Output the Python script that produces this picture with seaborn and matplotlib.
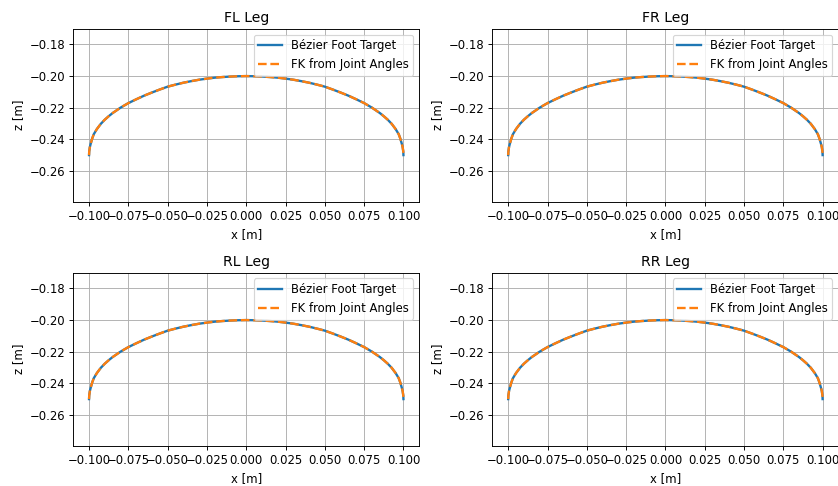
import pandas as pd
import matplotlib
matplotlib.use("Agg")
import matplotlib.pyplot as plt
from matplotlib.ticker import MultipleLocator
import seaborn as sns

# Swing trajectory of one foot (x forward, z vertical), in metres
foot_x = [-0.1000, -0.0999, -0.0995, -0.0990, -0.0980, -0.0970, -0.0950,
          -0.0925, -0.0900, -0.0875, -0.0850, -0.0800, -0.0750, -0.0700,
          -0.0650, -0.0600, -0.0550, -0.0500, -0.0450, -0.0400, -0.0350,
          -0.0300, -0.0250, -0.0200, -0.0150, -0.0100, -0.0050, 0.0000,
          0.0050, 0.0100, 0.0150, 0.0200, 0.0250, 0.0300, 0.0350,
          0.0400, 0.0450, 0.0500, 0.0550, 0.0600, 0.0650, 0.0700,
          0.0750, 0.0800, 0.0850, 0.0875, 0.0900, 0.0925, 0.0950,
          0.0970, 0.0980, 0.0990, 0.0995, 0.0999, 0.1000]
foot_z = [-0.2500, -0.2478, -0.2450, -0.2430, -0.2395, -0.2368, -0.2335,
          -0.2302, -0.2276, -0.2254, -0.2234, -0.2200, -0.2171, -0.2147,
          -0.2124, -0.2104, -0.2085, -0.2067, -0.2054, -0.2042, -0.2032,
          -0.2023, -0.2016, -0.2010, -0.2006, -0.2003, -0.2001, -0.2000,
          -0.2001, -0.2003, -0.2006, -0.2010, -0.2016, -0.2023, -0.2032,
          -0.2042, -0.2054, -0.2067, -0.2085, -0.2104, -0.2124, -0.2147,
          -0.2171, -0.2200, -0.2234, -0.2254, -0.2276, -0.2302, -0.2335,
          -0.2368, -0.2395, -0.2430, -0.2450, -0.2478, -0.2500]

legs = ["FL", "FR", "RL", "RR"]

df = pd.DataFrame({"x": foot_x, "z": foot_z})

DPI = 84
fig, axes = plt.subplots(2, 2, figsize=(839 / DPI, 486 / DPI), dpi=DPI)
fig.subplots_adjust(left=0.0874, right=0.9992, top=0.941, bottom=0.0829,
                    wspace=0.212, hspace=0.41)

for ax, leg in zip(axes.flat, legs):
    sns.lineplot(data=df, x="x", y="z", ax=ax, sort=False, estimator=None,
                 color="#1f77b4", linewidth=2, label="Bézier Foot Target")
    sns.lineplot(data=df, x="x", y="z", ax=ax, sort=False, estimator=None,
                 color="#ff7f0e", linewidth=2, linestyle="--",
                 label="FK from Joint Angles")
    ax.set_title(f"{leg} Leg")
    ax.set_xlabel("x [m]")
    ax.set_ylabel("z [m]")
    # equal-scale view of the swing arc
    ax.set_xlim(-0.11, 0.11)
    ax.set_ylim(-0.2795, -0.1700)
    ax.xaxis.set_major_locator(MultipleLocator(0.025))
    ax.yaxis.set_major_locator(MultipleLocator(0.02))
    ax.grid(True)
    ax.legend(loc="upper right")

fig.savefig("out.png", dpi=DPI)
